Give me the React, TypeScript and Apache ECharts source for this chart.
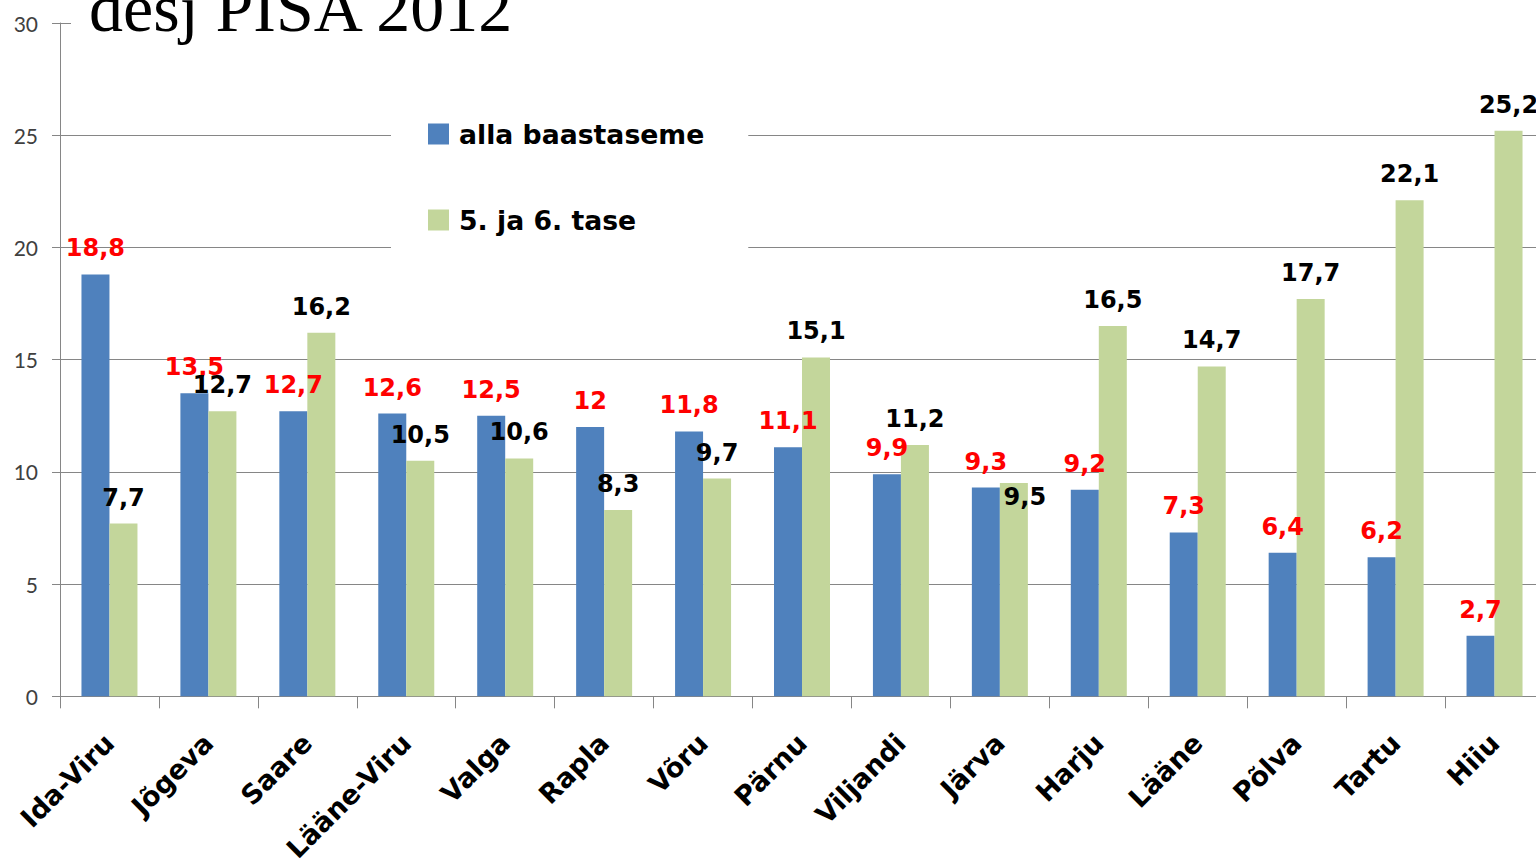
import React, { useEffect, useRef } from "react";
import * as echarts from "echarts";

const categories = [
  "Ida-Viru", "Jõgeva", "Saare", "Lääne-Viru", "Valga", "Rapla", "Võru", "Pärnu",
  "Viljandi", "Järva", "Harju", "Lääne", "Põlva", "Tartu", "Hiiu",
];
const allaBaastaseme = [18.8, 13.5, 12.7, 12.6, 12.5, 12, 11.8, 11.1, 9.9, 9.3, 9.2, 7.3, 6.4, 6.2, 2.7];
const tase56 = [7.7, 12.7, 16.2, 10.5, 10.6, 8.3, 9.7, 15.1, 11.2, 9.5, 16.5, 14.7, 17.7, 22.1, 25.2];
const seriesNames = ["alla baastaseme", "5. ja 6. tase"];
const titleText = "desj PISA 2012";

const BOLD = "'DejaVu Sans', 'Open Sans', sans-serif";
const AXIS = "Lato, 'Open Sans', sans-serif";
const fmt = (p: any) => String(p.value).replace(".", ",");

export default function App() {
  const ref = useRef<HTMLDivElement>(null);
  useEffect(() => {
    if (!ref.current) return;
    const chart = echarts.init(ref.current, undefined, { renderer: "svg" });
    const greenData = tase56.map((v, i) =>
      categories[i] === "Järva" ? { value: v, label: { offset: [11, 40] } } : v
    );
    const labelBase = {
      show: true,
      position: "top",
      distance: 14,
      formatter: fmt,
      fontFamily: BOLD,
      fontWeight: "bold",
      fontSize: 24,
    };
    chart.setOption({
      animation: false,
      backgroundColor: "#fff",
      grid: { left: 60, right: 8, top: 23, bottom: 167, containLabel: false },
      legend: {
        orient: "vertical",
        left: 391,
        top: 97,
        padding: [22, 44, 22, 37],
        backgroundColor: "#fff",
        itemWidth: 21,
        itemHeight: 21,
        itemGap: 56,
        icon: "rect",
        data: seriesNames,
        textStyle: {
          fontFamily: BOLD,
          fontWeight: "bold",
          fontSize: 26.7,
          lineHeight: 30,
          color: "#000",
          padding: [0, 0, 0, 5],
        },
        z: 20,
      },
      xAxis: {
        type: "category",
        data: categories,
        axisLine: { lineStyle: { color: "#868686", width: 1 } },
        axisTick: { show: true, length: 12, interval: 0, alignWithLabel: false, lineStyle: { color: "#868686" } },
        axisLabel: {
          interval: 0,
          rotate: 45,
          margin: 42,
          fontFamily: BOLD,
          fontWeight: "bold",
          fontSize: 27,
          color: "#000",
        },
      },
      yAxis: {
        type: "value",
        min: 0,
        max: 30,
        interval: 5,
        axisLine: { show: true, lineStyle: { color: "#868686", width: 1 } },
        axisTick: { show: true, length: 8, lineStyle: { color: "#868686" } },
        axisLabel: { margin: 22, fontFamily: AXIS, fontSize: 21, color: "#404040" },
        splitLine: { lineStyle: { color: "#868686", width: 1 } },
      },
      graphic: [
        { type: "rect", shape: { x: 71, y: 14, width: 1500, height: 14 }, style: { fill: "#fff" }, z: 50 },
        {
          type: "text",
          x: 89,
          y: 8,
          z: 51,
          style: {
            text: titleText,
            fontFamily: "'Liberation Serif', serif",
            fontSize: 68,
            fill: "#000",
            verticalAlign: "middle",
            align: "left",
          },
        },
      ],
      series: [
        {
          name: seriesNames[0],
          type: "bar",
          data: allaBaastaseme,
          barWidth: 28,
          barGap: "0%",
          itemStyle: { color: "#4F81BD" },
          label: { ...labelBase, color: "#FF0000" },
        },
        {
          name: seriesNames[1],
          type: "bar",
          data: greenData,
          barWidth: 28,
          barGap: "0%",
          itemStyle: { color: "#C3D69B" },
          label: { ...labelBase, color: "#000" },
        },
      ],
    });
    return () => chart.dispose();
  }, []);
  return (
    <div style={{ position: "fixed", left: 0, top: 0, width: 1536, height: 865, overflow: "hidden", background: "#fff" }}>
      <div ref={ref} style={{ width: 1552, height: 865 }} />
    </div>
  );
}
